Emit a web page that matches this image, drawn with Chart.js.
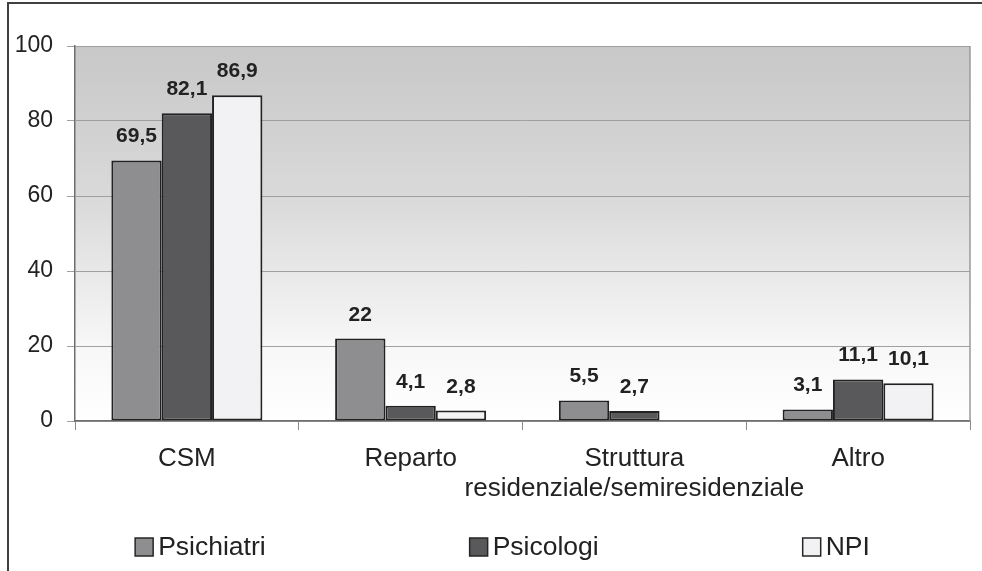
<!DOCTYPE html>
<html>
<head>
<meta charset="utf-8">
<script src="https://cdn.jsdelivr.net/npm/chart.js@4.4.0/dist/chart.umd.min.js"></script>
<style>
  html, body { margin: 0; padding: 0; background: #fff; }
  #wrap { position: relative; width: 982px; height: 571px; overflow: hidden; }
  #frame { position: absolute; left: 7px; top: 2px; right: -10px; bottom: -10px;
           border-top: 2px solid #404040; border-left: 2px solid #404040; pointer-events: none; }
  canvas { position: absolute; left: 0; top: 0; }
</style>
</head>
<body>
<div id="wrap">
  <canvas id="chart" width="982" height="571"></canvas>
  <div id="frame"></div>
</div>
<script>
// Categories and series values
const categories = ['CSM', 'Reparto', ['Struttura', 'residenziale/semiresidenziale'], 'Altro'];
const seriesNames = ['Psichiatri', 'Psicologi', 'NPI'];
const psichiatri = [69.5, 22, 5.5, 3.1];
const psicologi = [82.1, 4.1, 2.7, 11.1];
const npi = [86.9, 2.8, null, 10.1];
const yTicks = [0, 20, 40, 60, 80, 100];

const FAMILY = '"Liberation Sans", Arial, Helvetica, sans-serif';
const TEXT = '#222222';
const seriesColors = ['#8e8e90', '#59595b', '#f2f2f4'];

const fmt = v => String(v).replace('.', ',');

// Grey-to-white gradient behind the plot area
const plotBackground = {
  id: 'plotBackground',
  beforeDraw(chart) {
    const { ctx, chartArea: a } = chart;
    const g = ctx.createLinearGradient(0, a.top, 0, a.bottom);
    g.addColorStop(0, '#c8c8c8');
    g.addColorStop(0.4, '#d9d9d9');
    g.addColorStop(0.8, '#f7f7f7');
    g.addColorStop(1, '#ffffff');
    ctx.save();
    ctx.fillStyle = g;
    ctx.fillRect(a.left, a.top, a.right - a.left, a.bottom - a.top);
    ctx.restore();
  }
};

// Right edge of the plot frame
const plotFrame = {
  id: 'plotFrame',
  beforeDatasetsDraw(chart) {
    const { ctx, chartArea: a } = chart;
    ctx.save();
    ctx.strokeStyle = '#9a9a9a';
    ctx.lineWidth = 1.5;
    ctx.beginPath();
    ctx.moveTo(a.right, a.top);
    ctx.lineTo(a.right, a.bottom);
    ctx.stroke();
    ctx.restore();
  }
};

// Value printed above each bar
const valueLabels = {
  id: 'valueLabels',
  afterDatasetsDraw(chart) {
    const { ctx } = chart;
    ctx.save();
    ctx.font = 'bold 21px ' + FAMILY;
    ctx.fillStyle = TEXT;
    ctx.textAlign = 'center';
    ctx.textBaseline = 'alphabetic';
    chart.data.datasets.forEach((ds, di) => {
      const meta = chart.getDatasetMeta(di);
      meta.data.forEach((el, i) => {
        const v = ds.data[i];
        if (v === null || v === undefined) return;
        ctx.fillText(fmt(v), el.x, el.y - 18);
      });
    });
    ctx.restore();
  }
};

// Legend row with widely spaced entries
const spacedLegend = {
  id: 'spacedLegend',
  afterDraw(chart) {
    const { ctx, chartArea: a } = chart;
    const box = 18, textGap = 5, gap = 204;
    ctx.save();
    ctx.font = '26.5px ' + FAMILY;
    const items = chart.data.datasets.map(ds => ({
      label: ds.label,
      color: ds.backgroundColor,
      w: box + textGap + ctx.measureText(ds.label).width
    }));
    const total = items.reduce((s, it) => s + it.w, 0) + gap * (items.length - 1);
    let x = (a.left + a.right) / 2 - total / 2 - 20;
    const cy = a.bottom + 126;
    items.forEach(it => {
      ctx.fillStyle = it.color;
      ctx.fillRect(x, cy - box / 2, box, box);
      ctx.strokeStyle = '#262626';
      ctx.lineWidth = 1.5;
      ctx.strokeRect(x, cy - box / 2, box, box);
      ctx.fillStyle = TEXT;
      ctx.textAlign = 'left';
      ctx.textBaseline = 'alphabetic';
      ctx.fillText(it.label, x + box + textGap, cy + 8);
      x += it.w + gap;
    });
    ctx.restore();
  }
};

const seriesData = [psichiatri, psicologi, npi];

new Chart(document.getElementById('chart'), {
  type: 'bar',
  data: {
    labels: categories,
    datasets: seriesNames.map((name, i) => ({
      label: name,
      data: seriesData[i],
      backgroundColor: seriesColors[i],
      borderColor: '#222222',
      borderWidth: 2,
      borderSkipped: false,
      categoryPercentage: 0.675,
      barPercentage: 1
    }))
  },
  options: {
    responsive: false,
    animation: false,
    layout: { padding: { left: 0, right: 12, top: 46, bottom: 60 } },
    plugins: {
      legend: { display: false },
      tooltip: { enabled: false }
    },
    scales: {
      x: {
        offset: true,
        grid: { offset: true, drawOnChartArea: false, color: '#8a8a8a', lineWidth: 1, tickLength: 9 },
        border: { color: '#6e6e6e', width: 1.5 },
        ticks: {
          font: { size: 26, family: FAMILY, lineHeight: 1.15 },
          color: TEXT, padding: 14, maxRotation: 0, autoSkip: false
        },
        afterFit: s => { s.height = 90; }
      },
      y: {
        min: 0, max: 100,
        afterBuildTicks: s => { s.ticks = yTicks.map(v => ({ value: v })); },
        grid: { color: '#a0a0a0', lineWidth: 1, tickLength: 8 },
        border: { color: '#6e6e6e', width: 1.5 },
        ticks: { font: { size: 23, family: FAMILY }, color: TEXT, padding: 14 },
        afterFit: s => { s.width = 75; }
      }
    }
  },
  plugins: [plotBackground, plotFrame, valueLabels, spacedLegend]
});
</script>
</body>
</html>
